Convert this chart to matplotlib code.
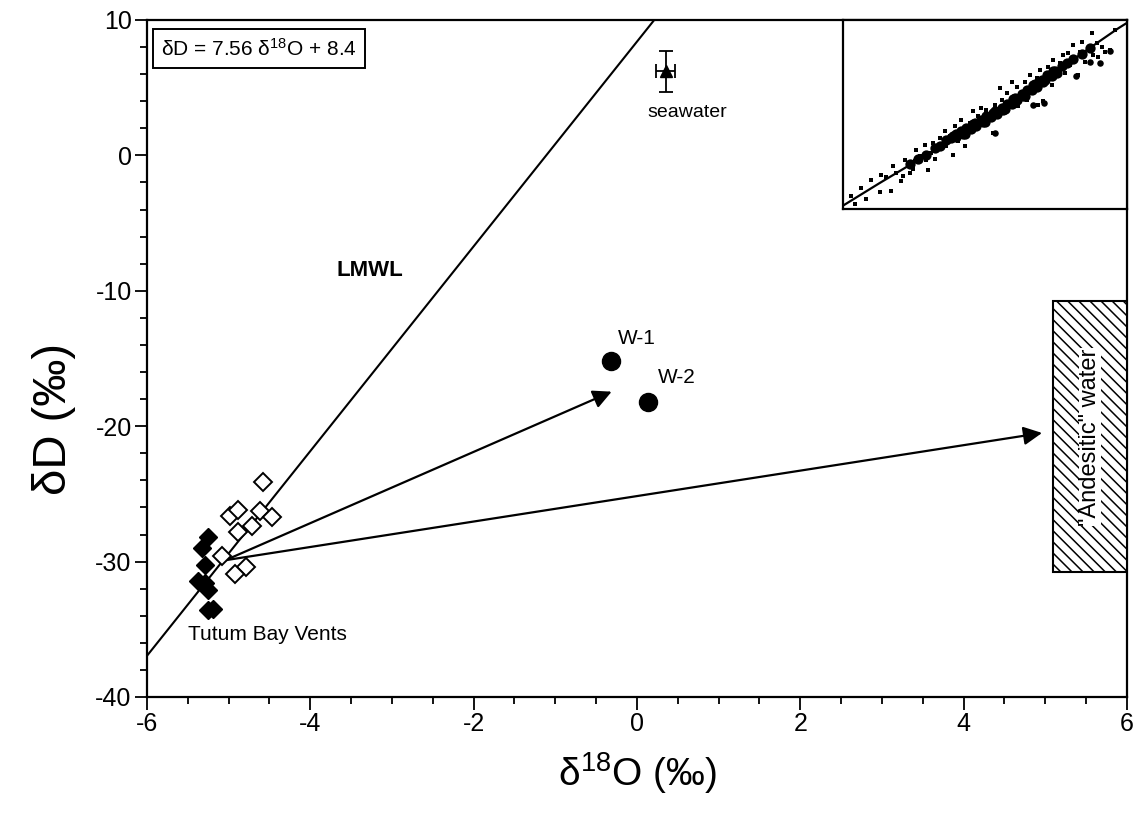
import matplotlib
matplotlib.use("Agg")
import matplotlib.pyplot as plt
from matplotlib.patches import Rectangle
from matplotlib.ticker import MultipleLocator

plt.rcParams['font.family'] = ['Liberation Sans', 'DejaVu Sans']
plt.rcParams['mathtext.fontset'] = 'custom'
plt.rcParams['mathtext.rm'] = 'Liberation Sans'
plt.rcParams['axes.unicode_minus'] = False
plt.rcParams['hatch.linewidth'] = 1.1

# ---------------- data ----------------
lmwl_slope = 7.56
lmwl_intercept = 8.4
lmwl_x = [-6.0, 6.0]

open_d18o = [-4.58, -4.98, -4.89, -4.61, -4.47, -4.71, -4.89, -5.08, -4.79, -4.92]
open_dD   = [-24.1, -26.6, -26.2, -26.3, -26.7, -27.4, -27.8, -29.6, -30.4, -30.9]

filled_d18o = [-5.25, -5.33, -5.29, -5.37, -5.29, -5.25, -5.25, -5.19]
filled_dD   = [-28.2, -29.0, -30.25, -31.4, -31.6, -32.1, -33.6, -33.5]

w_labels = ["W-1", "W-2"]
w_d18o = [-0.32, 0.13]
w_dD   = [-15.2, -18.2]

sea_d18o = 0.35
sea_dD = 6.2
sea_xerr = 0.12
sea_yerr = 1.5

arrow_start = (-5.04, -29.9)
arrow_ends = [(-0.31, -17.45), (4.96, -20.5)]

andesitic_x = (5.10, 6.0)
andesitic_y = (-30.8, -10.75)

# inset (global meteoric water data, arbitrary units)
inset_line_x = [0.0, 11.0, 26.0, 46.0, 56.0, 66.0, 76.0, 82.5, 86.0]
inset_line_y = [1.0, 7.8, 16.8, 28.8, 35.8, 42.8, 49.8, 54.3, 56.5]

inset_x = [2.5, 5.5, 8.5, 11.5, 11.0, 15.0, 14.5, 16.0, 17.5, 18.5, 19.5, 20.0, 21.5, 22.0,
           23.0, 24.5, 25.0, 25.5, 26.5, 27.0, 28.0, 29.0, 30.5, 31.0, 32.0, 33.0, 33.5,
           34.5, 35.5, 36.0, 36.5, 38.0, 39.0, 40.0, 40.5, 41.5, 42.0, 43.0, 44.0, 45.0,
           45.5, 46.5, 47.0, 47.5, 48.5, 49.0, 50.0, 50.5, 51.0, 52.0, 52.5, 53.5, 54.5,
           55.0, 56.0, 57.0, 58.0, 58.5, 59.0, 60.0, 60.0, 61.5, 62.0, 62.5, 63.0, 64.0,
           65.0, 66.0, 66.5, 67.5, 68.0, 69.0, 69.5, 70.5, 71.0, 71.5, 72.5, 73.5, 74.5,
           75.0, 76.0, 76.5, 77.5, 78.5, 80.0, 81.5, 7.0, 13.0, 3.5, 18.0, 21.0, 27.5]
inset_y = [3.8, 6.3, 8.6, 10.3, 5.0, 12.8, 5.3, 10.8, 8.3, 14.8, 12.8, 10.8, 14.3, 17.8,
           15.8, 19.3, 14.8, 11.8, 16.8, 19.8, 17.8, 21.3, 23.3, 18.8, 21.8, 16.3, 24.8,
           20.3, 26.8, 23.8, 18.8, 25.8, 29.3, 24.3, 27.8, 30.3, 25.3, 29.8, 27.3, 22.8,
           31.3, 28.8, 36.3, 32.8, 29.8, 34.8, 31.3, 38.3, 33.3, 36.8, 30.8, 34.8, 38.3,
           32.8, 40.3, 35.8, 39.3, 31.3, 41.8, 38.3, 32.3, 42.8, 40.3, 37.3, 44.8, 41.8,
           43.8, 46.3, 40.8, 46.8, 43.3, 49.3, 45.3, 40.3, 47.3, 50.3, 44.3, 48.3, 52.8,
           46.3, 49.8, 45.8, 48.8, 47.3, 47.8, 53.8, 3.0, 9.5, 1.5, 9.8, 12.0, 15.0]

dense_x = [31, 32.5, 33, 34, 35.5, 36, 37, 38.5, 39, 40, 41.5, 42, 43, 44.5, 45, 46, 47.5,
           48, 49, 50.5, 51, 52, 53.5, 54, 55, 56.5, 57, 58, 59.5, 60, 61, 62.5, 63, 64, 65.5,
           34, 36.5, 39.5, 42.5, 45.5, 48.5, 51.5, 54.5, 57.5, 60.5, 63.5,
           20, 22.5, 25, 27.5, 29, 67, 69, 71.5, 74]
dense_y = [20.8, 21.2, 22.0, 21.5, 23.3, 22.6, 24.2, 24.0, 25.4, 25.0, 26.6, 26.0, 27.8, 27.6,
           28.9, 28.5, 30.4, 29.8, 31.6, 31.4, 33.0, 32.6, 34.6, 34.0, 35.9, 35.8, 37.3, 36.8,
           38.7, 38.3, 40.2, 39.9, 41.5, 41.0, 42.9,
           22.6, 22.4, 25.8, 26.1, 29.5, 30.0, 33.2, 34.0, 37.5, 38.8, 41.6,
           13.5, 15.0, 16.2, 18.3, 18.9, 44.0, 45.2, 46.5, 48.5]

big_x = [80.0, 77.0, 74.0, 69.7, 60.2, 56.9, 45.5]
big_y = [47.5, 43.8, 44.3, 40.0, 31.9, 31.3, 22.9]

# ---------------- figure ----------------
fig = plt.figure(figsize=(11.34, 8.15), dpi=100)
ax = fig.add_axes([0.1296, 0.1448, 0.8642, 0.8307])
ax.set_xlim(-6, 6)
ax.set_ylim(-40, 10)

for s in ax.spines.values():
    s.set_linewidth(1.6)

ax.xaxis.set_major_locator(MultipleLocator(2))
ax.xaxis.set_minor_locator(MultipleLocator(0.5))
ax.yaxis.set_major_locator(MultipleLocator(10))
ax.yaxis.set_minor_locator(MultipleLocator(2))
ax.tick_params(which='both', direction='out', top=False, right=False, width=1.3,
               labelsize=18)
ax.tick_params(which='major', length=9, pad=2)
ax.tick_params(which='minor', length=5)

ax.set_xlabel('δ$\\mathregular{^{18}}$O (‰)', fontsize=28)
ax.xaxis.set_label_coords(0.5, -0.078)
ax.set_ylabel('δD (‰)', fontsize=34)
ax.yaxis.set_label_coords(-0.072, 0.41)

# LMWL
lmwl_y = [lmwl_slope * x + lmwl_intercept for x in lmwl_x]
ax.plot(lmwl_x, lmwl_y, color='black', lw=1.5, zorder=2)
ax.text(-3.27, -8.5, 'LMWL', fontsize=16, fontweight='bold', ha='center', va='center')

# arrows
for end in arrow_ends:
    ax.annotate('', xy=end, xytext=arrow_start,
                arrowprops=dict(arrowstyle='-|>', color='black', lw=1.6,
                                mutation_scale=28, shrinkA=0, shrinkB=0), zorder=3)

# diamonds
ax.plot(open_d18o, open_dD, linestyle='none', marker='D', ms=9, mfc='white',
        mec='black', mew=1.4, zorder=4)
ax.plot(filled_d18o, filled_dD, linestyle='none', marker='D', ms=9, mfc='black',
        mec='black', zorder=5)
ax.text(-4.52, -35.4, 'Tutum Bay Vents', fontsize=15, ha='center', va='center')

# W samples
ax.plot(w_d18o, w_dD, linestyle='none', marker='o', ms=13, color='black', zorder=5)
ax.text(0.0, -13.5, w_labels[0], fontsize=15, ha='center', va='center')
ax.text(0.49, -16.4, w_labels[1], fontsize=15, ha='center', va='center')

# seawater
ax.errorbar([sea_d18o], [sea_dD], xerr=[sea_xerr], yerr=[sea_yerr], fmt='^',
            color='black', ms=8, capsize=5, elinewidth=1.3, capthick=1.3, zorder=5)
ax.text(0.62, 3.2, 'seawater', fontsize=14, ha='center', va='center')

# andesitic water box
ax.add_patch(Rectangle((andesitic_x[0], andesitic_y[0]), andesitic_x[1] - andesitic_x[0],
                       andesitic_y[1] - andesitic_y[0], facecolor='white',
                       edgecolor='black', lw=1.5, hatch='\\\\\\', zorder=3))
ax.text((andesitic_x[0] + andesitic_x[1]) / 2, -20.8, '"Andesitic" water', rotation=90,
        fontsize=17, ha='center', va='center', zorder=6,
        bbox=dict(facecolor='white', edgecolor='none', pad=0))

# equation box
ax.text(-5.83, 7.9, 'δD = 7.56 δ$\\mathregular{^{18}}$O + 8.4', fontsize=15,
        ha='left', va='center',
        bbox=dict(facecolor='white', edgecolor='black', lw=1.4, boxstyle='square,pad=0.4'))

# inset
axi = fig.add_axes([0.7434, 0.7436, 0.9938 - 0.7434, 0.9755 - 0.7436])
axi.set_xlim(0, 85.1)
axi.set_ylim(0, 56.8)
axi.set_xticks([])
axi.set_yticks([])
for s in axi.spines.values():
    s.set_linewidth(1.6)
axi.plot(inset_line_x, inset_line_y, color='black', lw=1.6)
axi.scatter(inset_x, inset_y, s=6, color='black', marker='s', linewidths=0)
axi.scatter(dense_x, dense_y, s=55, color='black', linewidths=0)
axi.scatter(big_x, big_y, s=22, color='black', linewidths=0)

fig.savefig('out.png', dpi=100)
